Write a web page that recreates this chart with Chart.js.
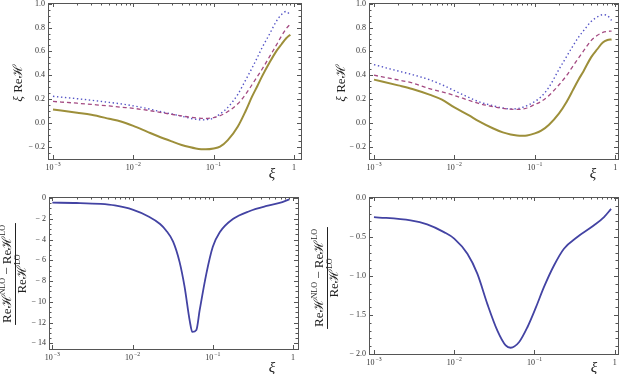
<!DOCTYPE html>
<html>
<head>
<meta charset="utf-8">
<script src="https://cdn.jsdelivr.net/npm/chart.js@4.4.1/dist/chart.umd.min.js"></script>
<style>
  body { margin: 0; background: #fff; }
  #wrap { position: relative; width: 623px; height: 374px; }
  #wrap canvas { position: absolute; left: 0; top: 0; }
</style>
</head>
<body>
<div id="wrap">
  <canvas id="p1" width="623" height="374"></canvas>
  <canvas id="p2" width="623" height="374"></canvas>
  <canvas id="p3" width="623" height="374"></canvas>
  <canvas id="p4" width="623" height="374"></canvas>
</div>
<script>
// xi grid for the upper panels
const xiTop = [0.001, 0.002, 0.003, 0.005, 0.007, 0.01, 0.015, 0.02, 0.03, 0.04, 0.05, 0.06, 0.07, 0.08,
  0.1, 0.12, 0.15, 0.2, 0.25, 0.3, 0.35, 0.4, 0.5, 0.6, 0.7, 0.8, 0.9];

// top left: xi Re H
const leftSolid = [0.112, 0.085, 0.068, 0.035, 0.012, -0.025, -0.075, -0.11, -0.155, -0.185, -0.203, -0.215, -0.221, -0.222,
  -0.215, -0.2, -0.145, -0.03, 0.1, 0.22, 0.31, 0.39, 0.51, 0.6, 0.66, 0.71, 0.74];
const leftDashed = [0.18, 0.165, 0.155, 0.142, 0.132, 0.122, 0.106, 0.092, 0.072, 0.058, 0.048, 0.042, 0.038, 0.037,
  0.045, 0.06, 0.095, 0.16, 0.24, 0.32, 0.39, 0.45, 0.56, 0.65, 0.73, 0.79, 0.83];
const leftDotted = [0.223, 0.203, 0.19, 0.172, 0.16, 0.143, 0.12, 0.1, 0.075, 0.056, 0.04, 0.03, 0.025, 0.027,
  0.04, 0.075, 0.13, 0.24, 0.36, 0.46, 0.55, 0.63, 0.75, 0.85, 0.91, 0.935, 0.905];

// top right: xi Re H
const rightSolid = [0.363, 0.315, 0.285, 0.235, 0.195, 0.13, 0.065, 0.015, -0.045, -0.08, -0.097, -0.105, -0.107, -0.105,
  -0.088, -0.065, -0.015, 0.08, 0.18, 0.28, 0.365, 0.43, 0.55, 0.62, 0.675, 0.695, 0.7];
const rightDashed = [0.4, 0.36, 0.335, 0.285, 0.26, 0.23, 0.19, 0.163, 0.137, 0.122, 0.115, 0.113, 0.116, 0.125,
  0.155, 0.18, 0.23, 0.32, 0.4, 0.48, 0.545, 0.6, 0.69, 0.735, 0.76, 0.768, 0.77];
const rightDotted = [0.489, 0.435, 0.405, 0.36, 0.32, 0.27, 0.215, 0.178, 0.145, 0.125, 0.117, 0.12, 0.13, 0.145,
  0.18, 0.22, 0.3, 0.45, 0.56, 0.65, 0.72, 0.77, 0.85, 0.89, 0.908, 0.9, 0.86];

// bottom left: (ReH NLO - ReH LO) / ReH LO
const xiRatioLeft = [0.001, 0.002, 0.004, 0.006, 0.01, 0.016, 0.022, 0.026, 0.032, 0.0385, 0.0445, 0.0515, 0.0556,
  0.0624, 0.0686, 0.083, 0.1, 0.122, 0.18, 0.29, 0.47, 0.68, 0.9];
const ratioLeft = [-0.45, -0.48, -0.57, -0.72, -1.12, -1.8, -2.5, -3.1, -4.2, -6.15, -8.56, -11.8, -12.9,
  -12.7, -10.8, -7.3, -4.7, -3.3, -2.0, -1.25, -0.77, -0.48, -0.13];

// bottom right
const xiRatioRight = [0.001, 0.00286, 0.0046, 0.00745, 0.01, 0.0146, 0.0194, 0.0259, 0.0345, 0.0438, 0.0505,
  0.0641, 0.0814, 0.1045, 0.1315, 0.175, 0.233, 0.342, 0.552, 0.736, 0.9];
const ratioRight = [-0.244, -0.287, -0.338, -0.437, -0.52, -0.715, -0.97, -1.36, -1.7, -1.89, -1.92,
  -1.85, -1.66, -1.4, -1.14, -0.865, -0.65, -0.5, -0.35, -0.244, -0.14];

// ticks
const xTicks = [0.001, 0.01, 0.1, 1];
const xTickLabels = ['10^−3', '10^−2', '10^−1', '1'];
const yTicksTop = [-0.2, 0, 0.2, 0.4, 0.6, 0.8, 1.0];
const yLabelsTop = ['− 0.2', '0.0', '0.2', '0.4', '0.6', '0.8', '1.0'];
const yTicksRatioLeft = [-14, -12, -10, -8, -6, -4, -2, 0];
const yLabelsRatioLeft = ['− 14', '− 12', '− 10', '− 8', '− 6', '− 4', '− 2', '0'];
const yTicksRatioRight = [-2, -1.5, -1, -0.5, 0];
const yLabelsRatioRight = ['− 2.0', '− 1.5', '− 1.0', '− 0.5', '0.0'];

const SERIF = '"Liberation Serif", "DejaVu Serif", serif';
const GOLD = '#9d8f3a', PINK = '#a44a82', BLUE = '#5454c6', DEEP = '#4343a3';

function pts(xs, ys) {
  return xs.map((x, i) => ({ x: x, y: ys[i] }));
}

// text with a "^" superscript part
function supText(ctx, str, x, y, size, align) {
  const parts = str.split('^');
  ctx.font = size + 'px ' + SERIF;
  const w0 = ctx.measureText(parts[0]).width;
  let w1 = 0;
  if (parts[1]) { ctx.font = (size * 0.72) + 'px ' + SERIF; w1 = ctx.measureText(parts[1]).width; }
  const total = w0 + w1 + (parts[1] ? 1 : 0);
  let sx = align === 'right' ? x - total : align === 'center' ? x - total / 2 : x;
  ctx.textAlign = 'left';
  ctx.textBaseline = 'middle';
  ctx.font = size + 'px ' + SERIF;
  ctx.fillText(parts[0], sx, y);
  if (parts[1]) {
    ctx.font = (size * 0.72) + 'px ' + SERIF;
    ctx.fillText(parts[1], sx + w0 + 1, y - size * 0.38);
  }
}

function frame(o) {
  return {
    id: 'frame',
    afterDraw(chart) {
      const { ctx, chartArea: a, scales: { x, y } } = chart;
      ctx.save();
      ctx.strokeStyle = '#555';
      ctx.fillStyle = '#333';
      ctx.lineWidth = 1;
      ctx.strokeRect(Math.round(a.left) + 0.5, Math.round(a.top) + 0.5,
        Math.round(a.right - a.left), Math.round(a.bottom - a.top));
      ctx.beginPath();
      // y ticks, left and right
      const lo = y.min, hi = y.max;
      for (let v = Math.ceil(lo / o.yMinor) * o.yMinor; v <= hi + 1e-9; v += o.yMinor) {
        const py = Math.round(y.getPixelForValue(v)) + 0.5;
        const major = o.yTicks.some(t => Math.abs(t - v) < 1e-6);
        const len = major ? 4 : 2.5;
        ctx.moveTo(a.left, py); ctx.lineTo(a.left + len, py);
        ctx.moveTo(a.right, py); ctx.lineTo(a.right - len, py);
      }
      // x ticks
      xTicks.forEach(t => {
        const px = Math.round(x.getPixelForValue(t)) + 0.5;
        ctx.moveTo(px, a.bottom); ctx.lineTo(px, a.bottom - 4);
        ctx.moveTo(px, a.top); ctx.lineTo(px, a.top + 4);
      });
      for (let d = 0.001; d < 1; d *= 10) {
        for (let k = 2; k <= 9; k++) {
          const px = Math.round(x.getPixelForValue(d * k)) + 0.5;
          ctx.moveTo(px, a.top); ctx.lineTo(px, a.top + 2.5);
        }
      }
      ctx.stroke();
      // labels
      o.yTicks.forEach((t, i) => {
        supText(ctx, o.yLabels[i], a.left - 3, y.getPixelForValue(t), 8, 'right');
      });
      xTicks.forEach((t, i) => {
        supText(ctx, xTickLabels[i], x.getPixelForValue(t), a.bottom + 9, 8, 'center');
      });
      // axis titles
      ctx.fillStyle = '#222';
      ctx.font = 'italic 15px ' + SERIF;
      ctx.textAlign = 'center';
      ctx.textBaseline = 'middle';
      ctx.fillText('ξ', o.xTitle[0], o.xTitle[1]);
      ctx.save();
      ctx.translate(o.yTitle[0], o.yTitle[1]);
      ctx.rotate(-Math.PI / 2);
      if (o.fraction) {
        const num = [['Reℋ', 13], ['NLO', 8, -5], [' − Reℋ', 13], ['LO', 8, -5]];
        const den = [['Reℋ', 13], ['LO', 8, -5]];
        const width = arr => arr.reduce((s, p) => { ctx.font = p[1] + 'px ' + SERIF; return s + ctx.measureText(p[0]).width; }, 0);
        const draw = (arr, yy) => {
          let sx = -width(arr) / 2;
          arr.forEach(p => {
            ctx.font = p[1] + 'px ' + SERIF;
            ctx.textAlign = 'left';
            ctx.fillText(p[0], sx, yy + (p[2] || 0));
            sx += ctx.measureText(p[0]).width;
          });
        };
        const wNum = width(num);
        draw(num, -7.5);
        draw(den, 8);
        ctx.beginPath();
        ctx.strokeStyle = '#222';
        ctx.moveTo(-wNum / 2 - 2, 0.5); ctx.lineTo(wNum / 2 + 2, 0.5);
        ctx.stroke();
      } else {
        ctx.font = 'italic 13px ' + SERIF;
        const w1 = ctx.measureText('ξ ').width;
        ctx.font = '13px ' + SERIF;
        const w2 = ctx.measureText('Reℋ').width;
        let sx = -(w1 + w2) / 2;
        ctx.textAlign = 'left';
        ctx.font = 'italic 13px ' + SERIF;
        ctx.fillText('ξ ', sx, 0);
        ctx.font = '13px ' + SERIF;
        ctx.fillText('Reℋ', sx + w1, 0);
      }
      ctx.restore();
      ctx.restore();
    }
  };
}

function panel(id, datasets, o) {
  new Chart(document.getElementById(id), {
    type: 'line',
    data: { datasets: datasets },
    options: {
      responsive: false,
      animation: false,
      layout: { padding: o.pad },
      elements: { point: { radius: 0 } },
      plugins: { legend: { display: false }, tooltip: { enabled: false } },
      scales: {
        x: { type: 'logarithmic', display: false, min: o.xMin, max: o.xMax },
        y: { type: 'linear', display: false, min: o.yMin, max: o.yMax }
      }
    },
    plugins: [frame(o)]
  });
}

function curve(data, color, width, dash) {
  return {
    data: data, borderColor: color, borderWidth: width, borderDash: dash || [],
    fill: false, cubicInterpolationMode: 'monotone'
  };
}

panel('p1', [
  curve(pts(xiTop, leftSolid), GOLD, 2),
  curve(pts(xiTop, leftDashed), PINK, 1.3, [4, 3]),
  curve(pts(xiTop, leftDotted), BLUE, 1.4, [1.4, 2.6])
], {
  pad: { left: 48, right: 322, top: 3, bottom: 215 },
  xMin: Math.pow(10, -3.062), xMax: Math.pow(10, 0.087), yMin: -0.303, yMax: 1.006,
  yTicks: yTicksTop, yLabels: yLabelsTop, yMinor: 0.05,
  xTitle: [272, 174], yTitle: [19, 83]
});

panel('p2', [
  curve(pts(xiTop, rightSolid), GOLD, 2),
  curve(pts(xiTop, rightDashed), PINK, 1.3, [4, 3]),
  curve(pts(xiTop, rightDotted), BLUE, 1.4, [1.4, 2.6])
], {
  pad: { left: 369, right: 5, top: 3, bottom: 215 },
  xMin: Math.pow(10, -3.062), xMax: Math.pow(10, 0.034), yMin: -0.303, yMax: 1.006,
  yTicks: yTicksTop, yLabels: yLabelsTop, yMinor: 0.05,
  xTitle: [593, 174], yTitle: [342, 83]
});

panel('p3', [
  curve(pts(xiRatioLeft, ratioLeft), DEEP, 1.8)
], {
  pad: { left: 49, right: 325, top: 197, bottom: 25 },
  xMin: Math.pow(10, -3.042), xMax: Math.pow(10, 0.062), yMin: -14.54, yMax: 0.096,
  yTicks: yTicksRatioLeft, yLabels: yLabelsRatioLeft, yMinor: 0.5,
  xTitle: [272, 368], yTitle: [15, 274], fraction: true
});

panel('p4', [
  curve(pts(xiRatioRight, ratioRight), DEEP, 1.8)
], {
  pad: { left: 369, right: 5, top: 197, bottom: 20 },
  xMin: Math.pow(10, -3.062), xMax: Math.pow(10, 0.041), yMin: -2.0, yMax: 0.013,
  yTicks: yTicksRatioRight, yLabels: yLabelsRatioRight, yMinor: 0.1,
  xTitle: [594, 368], yTitle: [327, 278], fraction: true
});
</script>
</body>
</html>
